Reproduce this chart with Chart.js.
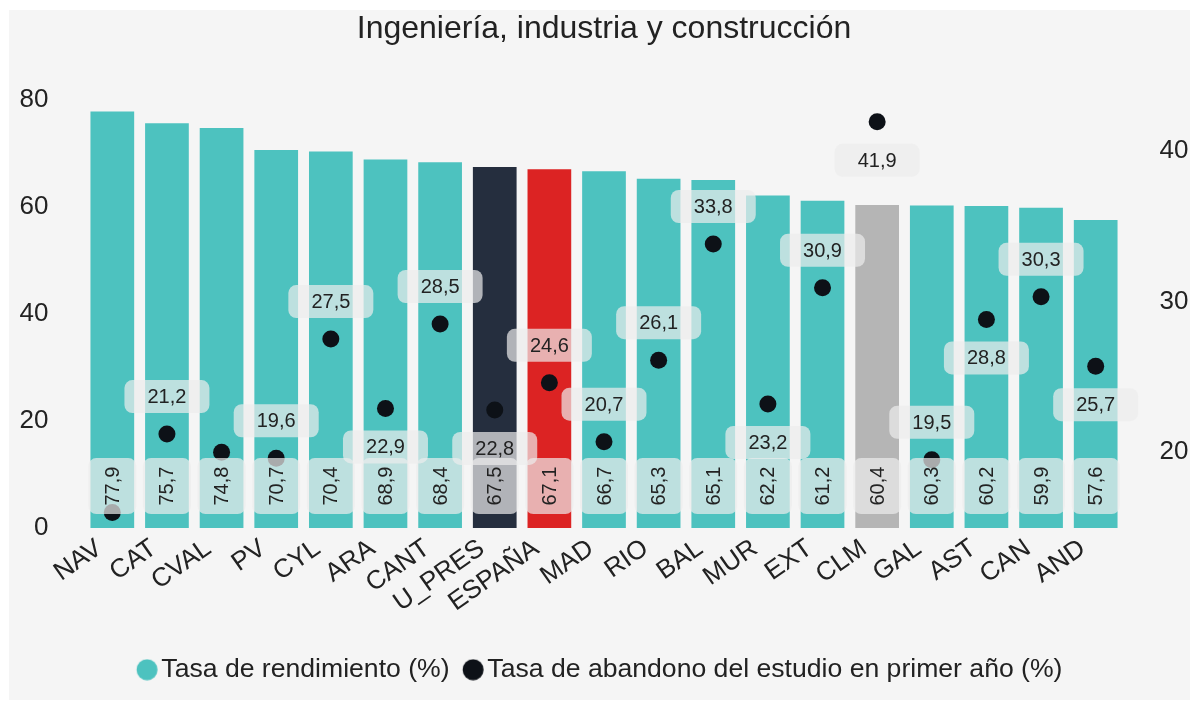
<!DOCTYPE html>
<html>
<head>
<meta charset="utf-8">
<script src="https://cdn.jsdelivr.net/npm/chart.js@4.4.1/dist/chart.umd.min.js"></script>
<style>
  html, body { margin: 0; padding: 0; overflow: hidden; background: #fff; }
  #contenedor { position: absolute; left: 9px; top: 10px; width: 1190px; height: 690px; background: #f5f5f5; }
</style>
</head>
<body>
<div id="contenedor"><canvas id="grafico"></canvas></div>
<script>
// Datos
const regiones = ['NAV', 'CAT', 'CVAL', 'PV', 'CYL', 'ARA', 'CANT', 'U_PRES', 'ESPAÑA', 'MAD',
                  'RIO', 'BAL', 'MUR', 'EXT', 'CLM', 'GAL', 'AST', 'CAN', 'AND'];
const tasaRendimiento = [77.9, 75.7, 74.8, 70.7, 70.4, 68.9, 68.4, 67.5, 67.1, 66.7,
                         65.3, 65.1, 62.2, 61.2, 60.4, 60.3, 60.2, 59.9, 57.6];
const tasaAbandono = [16.0, 21.2, 20.0, 19.6, 27.5, 22.9, 28.5, 22.8, 24.6, 20.7,
                      26.1, 33.8, 23.2, 30.9, 41.9, 19.5, 28.8, 30.3, 25.7];
const ticksIzq = [0, 20, 40, 60, 80];
const ticksDer = [20, 30, 40];

// donde va la etiqueta de cada punto (null = oculta)
const posEtiqueta = [null, 'top', null, 'top', 'top', 'bottom', 'top', 'bottom', 'top', 'top',
                     'top', 'top', 'bottom', 'top', 'bottom', 'top', 'bottom', 'top', 'bottom'];

const FUENTE = '"Liberation Sans", Arial, sans-serif';
const TEXTO = '#222222';
const TURQUESA = '#4dc2bf';
const NEGRO = '#0d1117';

function colorBarra(region) {
    if (region === 'U_PRES') return '#252e3e';
    if (region === 'ESPAÑA') return '#dc2323';
    if (region === 'CLM') return '#b5b5b5';
    return TURQUESA;
}

function fmt(v) {
    return v.toFixed(1).replace('.', ',');
}

function cajaRedondeada(ctx, x, y, w, h, r) {
    ctx.beginPath();
    ctx.roundRect(x, y, w, h, r);
    ctx.fillStyle = 'rgba(236, 236, 236, 0.7)';
    ctx.fill();
}

// circulo para la leyenda (desplazado a la derecha para pegarlo al texto)
function circulo(color) {
    const c = document.createElement('canvas');
    c.width = 36; c.height = 22;
    const g = c.getContext('2d');
    g.fillStyle = color;
    g.beginPath();
    g.arc(24.25, 11, 10.5, 0, Math.PI * 2);
    g.fill();
    return c;
}

// etiquetas de valores (barras giradas abajo, puntos arriba/abajo)
const etiquetas = {
    id: 'etiquetas',
    afterLayout(chart) {
        // la leyenda del original queda un poco a la izquierda
        chart.legend.left -= 6;
        chart.legend.right -= 6;
    },
    afterDatasetsDraw(chart) {
        const ctx = chart.ctx;
        const base = chart.scales.y.getPixelForValue(0);
        ctx.save();
        ctx.font = '20px ' + FUENTE;
        ctx.textAlign = 'center';
        ctx.textBaseline = 'middle';

        chart.getDatasetMeta(0).data.forEach((barra, i) => {
            ctx.save();
            ctx.translate(barra.x, base - 42);
            ctx.rotate(-Math.PI / 2);
            cajaRedondeada(ctx, -28, -24, 56, 48, 8);
            ctx.fillStyle = TEXTO;
            ctx.fillText(fmt(tasaRendimiento[i]), 0, 1);
            ctx.restore();
        });

        chart.getDatasetMeta(1).data.forEach((pt, i) => {
            const pos = posEtiqueta[i];
            if (!pos) return;
            const cy = pos === 'top' ? pt.y - 37.5 : pt.y + 38.5;
            cajaRedondeada(ctx, pt.x - 42.5, cy - 16.5, 85, 33, 8);
            ctx.fillStyle = TEXTO;
            ctx.fillText(fmt(tasaAbandono[i]), pt.x, cy + 1);
        });
        ctx.restore();
    }
};

const ejeY = (lado, min, max, ticks) => ({
    position: lado,
    min: min,
    max: max,
    grid: { display: false },
    border: { display: false },
    afterBuildTicks: ax => { ax.ticks = ticks.map(v => ({ value: v })); },
    afterFit: ax => { ax.width = 66; },
    ticks: { color: TEXTO, font: { family: FUENTE, size: 26 }, padding: 28.6 }
});

new Chart(document.getElementById('grafico'), {
    type: 'bar',
    data: {
        labels: regiones,
        datasets: [{
            label: 'Tasa de rendimiento (%)',
            data: tasaRendimiento,
            backgroundColor: regiones.map(colorBarra),
            barPercentage: 0.8,
            categoryPercentage: 1,
            yAxisID: 'y',
            order: 2
        }, {
            type: 'line',
            label: 'Tasa de abandono del estudio en primer año (%)',
            data: tasaAbandono,
            showLine: false,
            pointRadius: 8.5,
            pointBackgroundColor: NEGRO,
            pointBorderWidth: 0,
            backgroundColor: NEGRO,
            yAxisID: 'y1',
            order: 1
        }]
    },
    options: {
        responsive: true,
        maintainAspectRatio: false,
        animation: false,
        layout: { padding: { left: 10, right: 10, top: 0, bottom: 7 } },
        plugins: {
            title: {
                display: true,
                text: 'Ingeniería, industria y construcción',
                color: TEXTO,
                font: { family: FUENTE, size: 32, weight: 'normal' },
                padding: { top: 0, bottom: 30.4 }
            },
            legend: {
                position: 'bottom',
                labels: {
                    color: TEXTO,
                    font: { family: FUENTE, size: 26.6 },
                    usePointStyle: true,
                    boxWidth: 14.5,
                    boxHeight: 15,
                    padding: 10,
                    sort: (a, b) => a.datasetIndex - b.datasetIndex,
                    generateLabels(chart) {
                        const items = Chart.defaults.plugins.legend.labels.generateLabels(chart);
                        items.forEach(it => {
                            it.pointStyle = circulo(it.datasetIndex === 0 ? TURQUESA : NEGRO);
                        });
                        return items;
                    }
                }
            },
            tooltip: { enabled: false }
        },
        scales: {
            x: {
                grid: { display: false, drawTicks: false },
                border: { display: false },
                afterFit: sc => { sc.paddingLeft = 0; sc.paddingRight = 0; sc.height = 118.3; },
                ticks: {
                    color: TEXTO,
                    font: { family: FUENTE, size: 26 },
                    padding: 5,
                    labelOffset: -13,
                    minRotation: 35,
                    maxRotation: 35,
                    autoSkip: false
                }
            },
            y: ejeY('left', 0, 84, ticksIzq),
            y1: ejeY('right', 14.97, 44.75, ticksDer)
        }
    },
    plugins: [etiquetas]
});
</script>
</body>
</html>
